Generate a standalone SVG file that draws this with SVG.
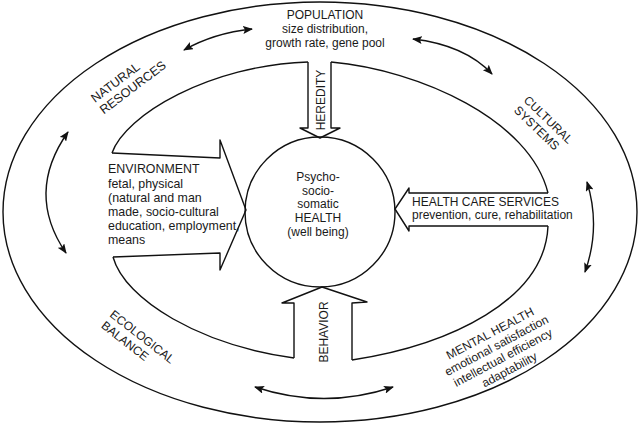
<svg xmlns="http://www.w3.org/2000/svg" width="640" height="425" viewBox="0 0 640 425">
<defs>
<style>
.ln{fill:none;stroke:#111;stroke-width:1.4;stroke-linejoin:round}
.t{font-family:"Liberation Sans",Arial,sans-serif;font-size:12px;fill:#1a1a1a}
.m{text-anchor:middle}
</style>
<marker id="ah" viewBox="0 0 10 8" refX="9" refY="4" markerWidth="10" markerHeight="8" markerUnits="userSpaceOnUse" orient="auto-start-reverse">
<path d="M0,0 L10,4 L0,8 L2,4 z" fill="#111"/>
</marker>
</defs>
<rect width="640" height="425" fill="#fff"/>

<g id="outer-ring">
<ellipse class="ln" cx="320" cy="212" rx="317" ry="210"/>
</g>

<g id="inner-lobes">
<path class="ln" d="M112,153 C125,115 210,65 308,62"/>
<path class="ln" d="M331,62 C420,70 530,120 548,193"/>
<path class="ln" d="M548,226 C545,300 450,345 352,360"/>
<path class="ln" d="M294,358 C200,345 125,300 113,257"/>
</g>

<g id="health">
<circle class="ln" cx="320" cy="212" r="75"/>
<text class="t m" x="318" y="181">Psycho-</text>
<text class="t m" x="318" y="195">socio-</text>
<text class="t m" x="318" y="208">somatic</text>
<text class="t m" x="318" y="222">HEALTH</text>
<text class="t m" x="318" y="236">(well being)</text>
</g>

<g id="heredity">
<path class="ln" d="M308,62 L308,128 L300,128 L320,138 L340,128 L331,128 L331,62"/>
<text class="t m" transform="translate(325,100) rotate(-90)">HEREDITY</text>
</g>

<g id="health-care-services">
<path class="ln" d="M548,193 L409,193 L409,188 L395,209 L409,231 L409,226 L548,226"/>
<text class="t" x="412" y="206">HEALTH CARE SERVICES</text>
<text class="t" x="412" y="219">prevention, cure, rehabilitation</text>
</g>

<g id="behavior">
<path class="ln" d="M352,360 L352,303 L367,302 L322,287 L282,303 L294,303 L294,358"/>
<text class="t m" transform="translate(328,332) rotate(-90)">BEHAVIOR</text>
</g>

<g id="environment">
<path class="ln" d="M113,257 L220,253 L220,270 L246,210 L220,140 L220,158 L112,153"/>
<text class="t" x="108" y="173" style="font-size:12.4px">ENVIRONMENT</text>
<text class="t" x="108" y="188" style="font-size:12.4px">fetal, physical</text>
<text class="t" x="108" y="202" style="font-size:12.4px">(natural and man</text>
<text class="t" x="108" y="216" style="font-size:12.4px">made, socio-cultural</text>
<text class="t" x="108" y="230" style="font-size:12.4px">education, employment,</text>
<text class="t" x="108" y="244" style="font-size:12.4px">means</text>
</g>

<g id="population">
<text class="t m" x="325" y="19">POPULATION</text>
<text class="t m" x="325" y="33">size distribution,</text>
<text class="t m" x="325" y="47">growth rate, gene pool</text>
</g>

<g id="natural-resources" transform="translate(95,103) rotate(-37)">
<text class="t" x="0" y="0" style="font-size:12.5px">NATURAL</text>
<text class="t" x="0" y="14.5" style="font-size:12.5px">RESOURCES</text>
</g>

<g id="cultural-systems" transform="translate(523,101) rotate(44)">
<text class="t" x="0" y="0">CULTURAL</text>
<text class="t" x="0" y="14">SYSTEMS</text>
</g>

<g id="ecological-balance" transform="translate(109,316) rotate(38)">
<text class="t" x="0" y="0">ECOLOGICAL</text>
<text class="t" x="0" y="14">BALANCE</text>
</g>

<g id="mental-health" transform="translate(492,337) rotate(-28)">
<text class="t m" x="0" y="0">MENTAL HEALTH</text>
<text class="t m" x="0" y="13.7">emotional satisfaction</text>
<text class="t m" x="0" y="27.4">intellectual efficiency</text>
<text class="t m" x="0" y="41.1">adaptability</text>
</g>

<g id="connectors">
<path class="ln" d="M184,50 Q214,33 252,29" marker-start="url(#ah)" marker-end="url(#ah)"/>
<path class="ln" d="M413,39 Q465,45 492,74" marker-start="url(#ah)" marker-end="url(#ah)"/>
<path class="ln" d="M68,132 Q25,193 66,253" marker-start="url(#ah)" marker-end="url(#ah)"/>
<path class="ln" d="M587,182 Q601,227 585,272" marker-start="url(#ah)" marker-end="url(#ah)"/>
<path class="ln" d="M255,387 Q324,410 393,387" marker-start="url(#ah)" marker-end="url(#ah)"/>
</g>
</svg>
